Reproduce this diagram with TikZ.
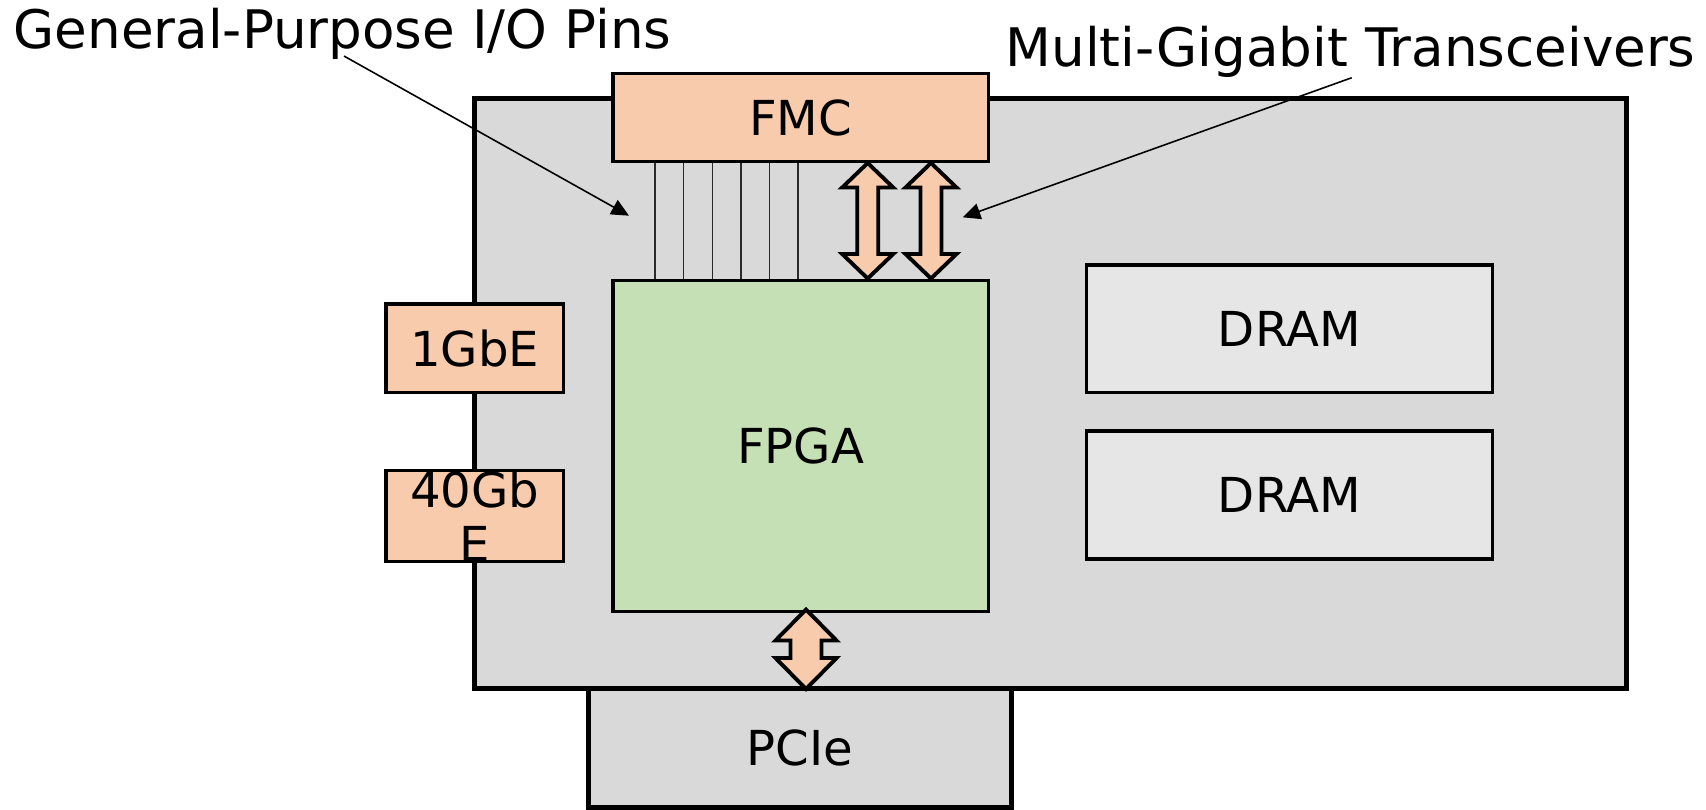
\documentclass[tikz,border=0pt]{standalone}
\usepackage{fontspec}
\setmainfont{DejaVu Sans}
\usetikzlibrary{arrows.meta}

\definecolor{boardgray}{HTML}{D9D9D9}
\definecolor{peach}{HTML}{F8CBAD}
\definecolor{fpgagreen}{HTML}{C5E0B4}
\definecolor{dramgray}{HTML}{E6E6E6}
\definecolor{pingray}{HTML}{2A2A2A}

\tikzset{
  board/.style={draw=black, fill=boardgray, line width=1.42pt, inner sep=0pt},
  part/.style={draw=black, line width=0.95pt, inner sep=0pt,
    font=\fontsize{13.7}{15.4}\selectfont, align=center},
  connector/.style={part, fill=peach},
  chip/.style={part, fill=fpgagreen},
  memory/.style={part, fill=dramgray},
  callout/.style={font=\fontsize{15.1}{18}\selectfont, inner sep=0pt, anchor=base west},
  pointer/.style={line width=0.45pt, -{Triangle[length=5pt,width=4.6pt]}},
  pin/.style={draw=pingray, line width=0.4pt},
  linkarrow/.style={draw=black, fill=peach, line width=1.1pt, line join=miter},
}

% vertical double-headed link arrow:
% #1 centre x, #2 top tip y, #3 bottom tip y, #4 head half-width, #5 head length, #6 shaft half-width
\newcommand\linkarrowat[6]{%
  \draw[linkarrow] ({#1},{#2}) -- ({#1+#4},{#2+#5}) -- ({#1+#6},{#2+#5})
    -- ({#1+#6},{#3-#5}) -- ({#1+#4},{#3-#5}) -- ({#1},{#3})
    -- ({#1-#4},{#3-#5}) -- ({#1-#6},{#3-#5}) -- ({#1-#6},{#2+#5})
    -- ({#1-#4},{#2+#5}) -- cycle;}

\begin{document}
\begin{tikzpicture}[x=0.01cm, y=-0.01cm]
  \useasboundingbox (0,0) rectangle (1706,809);

  % carrier board and the PCIe edge connector
  \node[board, minimum width=11.515cm, minimum height=5.897cm] (pcb) at (1050.75,393.15) {};
  \node[board, minimum width=4.22cm, minimum height=1.18cm,
        font=\fontsize{13.7}{15.4}\selectfont] (pcie) at (800,748) {PCIe};

  % mezzanine connector and FPGA
  \node[connector, minimum width=3.753cm, minimum height=0.884cm] (fmc) at (800.65,117.5) {FMC};
  \node[chip, minimum width=3.753cm, minimum height=3.31cm] (fpga) at (800.65,446.2) {FPGA};

  % network ports on the board edge
  \node[connector, minimum width=1.773cm, minimum height=0.887cm] (gbe) at (474.65,348.35) {1GbE};
  \node[connector, minimum width=1.773cm, minimum height=0.89cm] (fortygbe) at (474.65,516.2) {40Gb\\E};

  % memory
  \node[memory, minimum width=4.056cm, minimum height=1.277cm] (dramA) at (1289.5,328.85) {DRAM};
  \node[memory, minimum width=4.056cm, minimum height=1.28cm] (dramB) at (1289.5,495) {DRAM};

  % general-purpose I/O pins between FMC and FPGA
  \foreach \px in {655,683.3,712.3,741,769.7,798}
    \draw[pin] (fmc.south -| \px,0) -- (fpga.north -| \px,0);

  % transceiver and PCIe links
  \linkarrowat{867.7}{163}{278.5}{25.5}{24.5}{10.5}
  \linkarrowat{931}{163}{278.5}{25.5}{24.5}{10.5}
  \linkarrowat{806}{609.5}{689}{30.5}{31}{15.5}

  % callouts
  \node[callout] (gpiolabel) at (13,48.3) {General-Purpose I/O Pins};
  \node[callout] (mgtlabel) at (1005,66.5) {Multi-Gigabit Transceivers};
  \coordinate (gpiotip) at (629,215.7);
  \coordinate (mgttip) at (962.7,217.3);
  \draw[pointer] (gpiolabel.south -| 344,0) ++(0,-4) -- (gpiotip);
  \draw[pointer] (mgtlabel.south -| 1351.7,0) ++(0,-0.5) -- (mgttip);
\end{tikzpicture}
\end{document}
